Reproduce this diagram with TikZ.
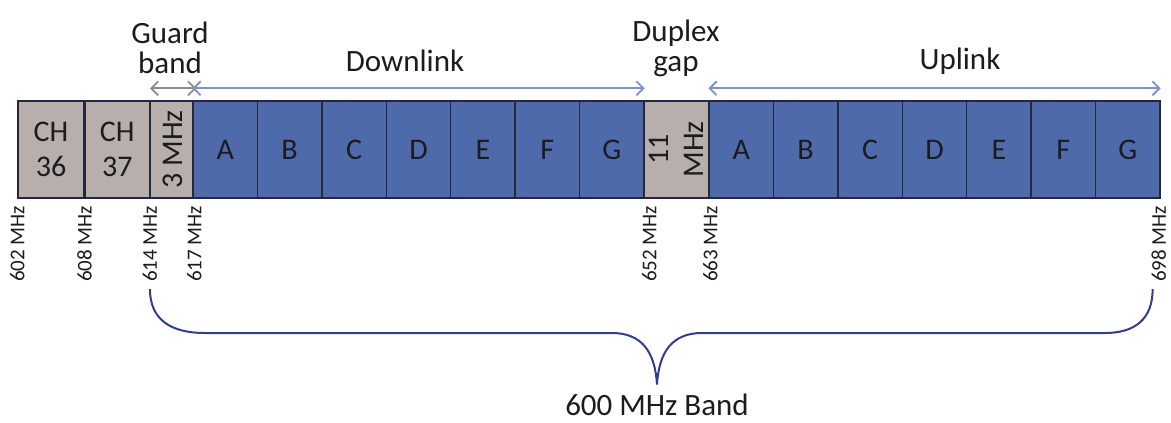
\documentclass[tikz,border=0pt]{standalone}
\usepackage{fontspec}
\setmainfont{Carlito}
\usetikzlibrary{positioning, arrows.meta}

\definecolor{bandblue}{RGB}{79,106,171}
\definecolor{bandgray}{RGB}{184,175,172}
\definecolor{edgedark}{RGB}{35,40,62}
\definecolor{arrowblue}{RGB}{128,146,200}
\definecolor{arrowgray}{RGB}{140,140,140}
\definecolor{bracecol}{RGB}{50,62,140}
\definecolor{textdark}{RGB}{28,28,30}

\tikzset{
  blk/.style={draw=edgedark, line width=1.3pt, minimum height=97pt, inner sep=0pt,
    align=center, text=textdark, font=\fontsize{30}{35}\selectfont},
  gbox/.style={blk, fill=bandgray},
  bbox/.style={blk, fill=bandblue, minimum width=64.4pt},
  freq/.style={rotate=90, anchor=east, inner sep=0pt, text=textdark,
    font=\fontsize{21}{21}\selectfont},
  toplabel/.style={align=center, text=textdark, font=\fontsize{31}{30}\selectfont},
  span/.style={line width=1.8pt, {Straight Barb[length=7pt, width=14pt]}-{Straight Barb[length=7pt, width=14pt]}},
}

\begin{document}
\begin{tikzpicture}[x=1pt, y=-1pt]
  \useasboundingbox[fill=white] (0,0) rectangle (1171,423);
  % channel and gap blocks
  \node[gbox, minimum width=66pt] (ch36) at (51,149.5) {CH\\36};
  \node[gbox, minimum width=64pt, right=0pt of ch36] (ch37) {CH\\37};
  \node[gbox, minimum width=45pt, right=0pt of ch37] (guard) {\rotatebox{90}{3 MHz}};
  % downlink blocks
  \foreach \l [count=\i] in {A,B,C,D,E,F,G}
    \node[bbox] (dl\i) at ({193+64.43*(\i-0.5)},149.5) {\l};
  \node[gbox, minimum width=65pt] (duplex) at (676.5,149.5)
    {\rotatebox{90}{\parbox{60pt}{\centering 11\\MHz}}};
  % uplink blocks
  \foreach \l [count=\i] in {A,B,C,D,E,F,G}
    \node[bbox] (ul\i) at ({709+64.43*(\i-0.5)},149.5) {\l};
  % frequency marks
  \node[freq] (f602) at ([yshift=-7pt]ch36.south west) {602 MHz};
  \node[freq] (f608) at ([yshift=-7pt]ch37.south west) {608 MHz};
  \node[freq] (f614) at ([yshift=-7pt]guard.south west) {614 MHz};
  \node[freq] (f617) at ([xshift=2pt, yshift=-7pt]dl1.south west) {617 MHz};
  \node[freq] (f652) at ([xshift=6pt, yshift=-7pt]duplex.south west) {652 MHz};
  \node[freq] (f663) at ([xshift=2pt, yshift=-7pt]ul1.south west) {663 MHz};
  \node[freq] (f698) at ([xshift=-2pt, yshift=-7pt]ul7.south east) {698 MHz};
  % labels above
  \node[toplabel] (lguard) at (170,48) {Guard\\band};
  \node[toplabel] (ldown) at (405,61) {Downlink};
  \node[toplabel] (lduplex) at (676,48) {Duplex\\gap};
  \node[toplabel] (lup) at (960,61) {Uplink};
  % spans
  \draw[span, arrowgray] ([yshift=12pt]guard.north west) -- ([yshift=12pt]guard.north east);
  \draw[span, arrowblue] ([yshift=12pt]dl1.north west) -- ([yshift=12pt]dl7.north east);
  \draw[span, arrowblue] ([yshift=12pt]ul1.north west) -- ([yshift=12pt]ul7.north east);
  % band brace
  \node[toplabel] (lband) at (657,405) {600 MHz Band};
  \coordinate (bl) at ([yshift=-7pt]f614.west);
  \coordinate (br) at ([xshift=-6pt, yshift=-7pt]f698.west);
  \coordinate (tip) at ([yshift=6pt]lband.north);
  \draw[bracecol, line width=2pt]
    (bl) .. controls +(0,30) and (170,333) .. (205,333) -- (612,333)
    .. controls (642,333) and (655,352) .. (tip)
    .. controls (659,352) and (672,333) .. (702,333) -- (1105,333)
    .. controls (1135,333) and +(0,30) .. (br);
\end{tikzpicture}
\end{document}
